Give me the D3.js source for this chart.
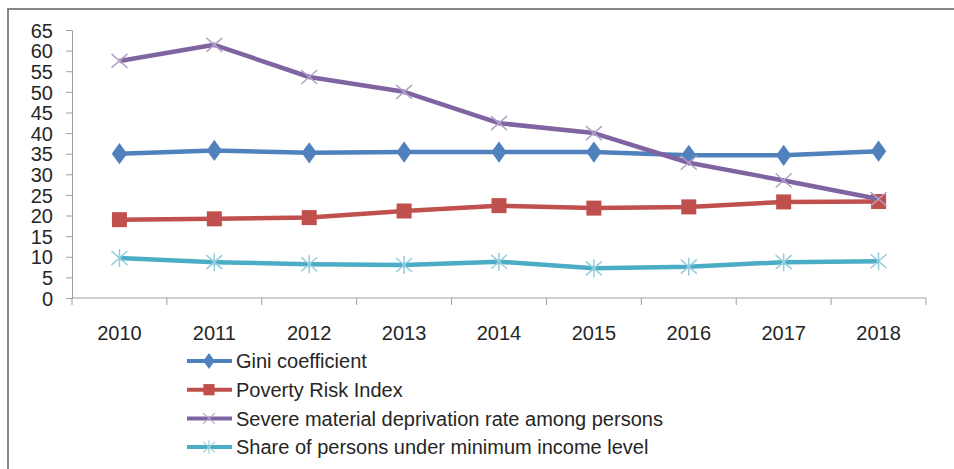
<!DOCTYPE html>
<html>
<head>
<meta charset="utf-8">
<script src="https://cdn.jsdelivr.net/npm/d3@7.9.0/dist/d3.min.js"></script>
<style>
  body { margin: 0; background: #fff; }
  svg { display: block; font-family: "Liberation Sans", Arial, sans-serif; }
  .tick text { fill: #262626; }
</style>
</head>
<body>
<svg id="chart" width="954" height="469"></svg>
<script>
const years = ['2010', '2011', '2012', '2013', '2014', '2015', '2016', '2017', '2018'];
const gini = [35.0, 35.8, 35.2, 35.4, 35.4, 35.4, 34.6, 34.6, 35.6];
const povertyRisk = [19.0, 19.2, 19.5, 21.1, 22.4, 21.8, 22.1, 23.3, 23.4];
const severeDeprivation = [57.5, 61.4, 53.6, 50.0, 42.4, 40.0, 32.8, 28.5, 24.0];
const shareUnderMin = [9.7, 8.7, 8.2, 8.0, 8.8, 7.2, 7.6, 8.7, 8.9];
const yTicks = d3.range(0, 66, 5);

// series config: colour of line, marker kind, marker colour
const series = [
  { name: 'Gini coefficient', values: gini, color: '#4f81bd', marker: 'diamond', mcolor: '#4f81bd' },
  { name: 'Poverty Risk Index', values: povertyRisk, color: '#c0504d', marker: 'square', mcolor: '#c0504d' },
  { name: 'Severe material deprivation rate among persons', values: severeDeprivation, color: '#8064a2', marker: 'x', mcolor: '#b3a2c7' },
  { name: 'Share of persons under minimum income level', values: shareUnderMin, color: '#4bacc6', marker: 'star', mcolor: '#93cddd' },
];

const svg = d3.select('#chart');

// outer frame (only top and left edges visible)
svg.append('line').attr('x1', 8).attr('x2', 954).attr('y1', 9).attr('y2', 9)
  .attr('stroke', '#868686').attr('stroke-width', 2);
svg.append('line').attr('x1', 8).attr('x2', 8).attr('y1', 8).attr('y2', 469)
  .attr('stroke', '#868686').attr('stroke-width', 2);

const x = d3.scaleBand().domain(years).range([72, 926]);
const y = d3.scaleLinear().domain([0, 65]).range([298, 30]);

const yAxis = svg.append('g').attr('transform', 'translate(72,0)')
  .call(d3.axisLeft(y).tickValues(yTicks).tickSize(6).tickPadding(13));
yAxis.select('.domain').attr('stroke', '#a0a0a0');
yAxis.selectAll('.tick line').attr('stroke', '#a0a0a0');
yAxis.selectAll('.tick text').attr('font-size', 20).attr('dy', '0.36em');

const xAxis = svg.append('g').attr('transform', 'translate(0,298)');
xAxis.append('line').attr('x1', 72).attr('x2', 926).attr('stroke', '#a0a0a0');
xAxis.selectAll('line.tk').data(years.concat(['end'])).join('line')
  .attr('class', 'tk')
  .attr('x1', (d, i) => 72 + i * x.bandwidth()).attr('x2', (d, i) => 72 + i * x.bandwidth())
  .attr('y1', 0).attr('y2', 7).attr('stroke', '#a0a0a0');
xAxis.selectAll('text').data(years).join('text')
  .attr('x', d => x(d) + x.bandwidth() / 2).attr('y', 42)
  .attr('text-anchor', 'middle').attr('font-size', 20).attr('fill', '#262626')
  .text(d => d);

function drawMarker(g, kind, color) {
  if (kind === 'diamond') {
    g.append('path').attr('d', d3.symbol(d3.symbolDiamond, 130)()).attr('fill', color)
      .attr('transform', 'scale(1.25,1)');
  } else if (kind === 'square') {
    g.append('rect').attr('x', -7.5).attr('y', -7.5).attr('width', 15).attr('height', 15).attr('fill', color);
  } else if (kind === 'x') {
    g.append('path').attr('d', 'M-8,-7L8,7M-8,7L8,-7').attr('stroke', color).attr('stroke-width', 1.5);
  } else {
    g.append('path').attr('d', 'M-8,-7L8,7M-8,7L8,-7M0,-9L0,9').attr('stroke', color).attr('stroke-width', 1.5);
  }
}

const line = d3.line().x((d, i) => x(years[i]) + x.bandwidth() / 2).y(d => y(d));

series.forEach(s => {
  const g = svg.append('g');
  g.append('path').datum(s.values).attr('d', line)
    .attr('fill', 'none').attr('stroke', s.color).attr('stroke-width', 4.5)
    .attr('stroke-linejoin', 'round');
  s.values.forEach((v, i) => {
    const m = g.append('g')
      .attr('transform', `translate(${x(years[i]) + x.bandwidth() / 2},${y(v)})`);
    drawMarker(m, s.marker, s.mcolor);
  });
});

// legend
const legend = svg.append('g');
series.forEach((s, i) => {
  const row = legend.append('g').attr('transform', `translate(187,${361 + i * 28.7})`);
  row.append('line').attr('x1', 0).attr('x2', 45).attr('stroke', s.color).attr('stroke-width', 4);
  const m = row.append('g').attr('transform', 'translate(22,0) scale(0.75)');
  drawMarker(m, s.marker, s.mcolor);
  row.append('text').attr('x', 49).attr('dy', '0.36em').attr('font-size', 20).attr('fill', '#262626')
    .text(s.name);
});
</script>
</body>
</html>
